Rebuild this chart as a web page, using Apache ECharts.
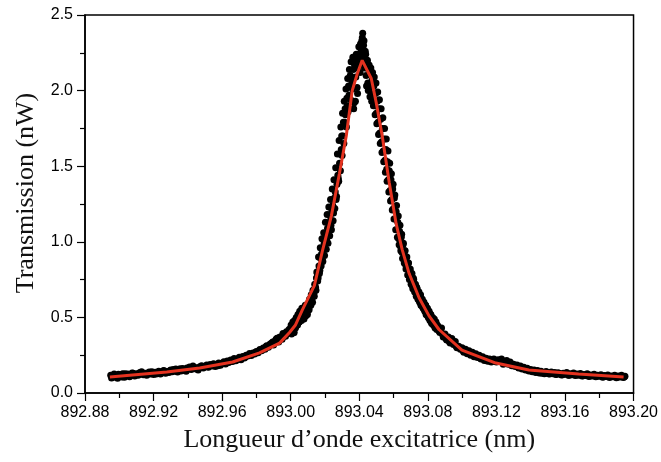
<!DOCTYPE html>
<html><head><meta charset="utf-8">
<script src="https://cdn.jsdelivr.net/npm/echarts@6/dist/echarts.min.js"></script>
<style>html,body{margin:0;padding:0;background:#fff}#c{width:661px;height:462px}</style>
</head><body><div id="c"></div>
<script>
// Axis tick settings (values)
const xTicks = [892.88, 892.92, 892.96, 893.00, 893.04, 893.08, 893.12, 893.16, 893.20];
const yTicks = [0.0, 0.5, 1.0, 1.5, 2.0, 2.5];

// Measured points: [wavelength (nm), transmission (nW)] — first pass
const leftTail = [
[892.895,0.118],[892.896,0.102],[892.897,0.125],[892.898,0.110],[892.899,0.097],[892.900,0.121],[892.901,0.113],[892.902,0.128],[892.903,0.104],[892.904,0.119],
[892.905,0.126],[892.906,0.108],[892.907,0.122],[892.908,0.131],[892.909,0.112],[892.910,0.127],[892.911,0.118],[892.912,0.135],[892.913,0.140],[892.914,0.121],
[892.915,0.130],[892.916,0.117],[892.917,0.134],[892.918,0.126],[892.919,0.141],[892.920,0.122],[892.921,0.137],[892.922,0.129],[892.923,0.144],[892.924,0.125],
[892.925,0.139],[892.926,0.148],[892.927,0.131],[892.928,0.143],[892.929,0.136],[892.930,0.152],[892.931,0.140],[892.932,0.147],[892.933,0.158],[892.934,0.139],
[892.935,0.153],[892.936,0.146],[892.937,0.162],[892.938,0.150],[892.939,0.144],[892.940,0.159],[892.941,0.172],[892.942,0.155],[892.943,0.178],[892.944,0.160],
[892.945,0.167],[892.946,0.152],[892.947,0.174],[892.948,0.181],[892.949,0.166],[892.950,0.177],[892.951,0.185],[892.952,0.170],[892.953,0.188],[892.954,0.179],
[892.955,0.193],[892.956,0.176],[892.957,0.190],[892.958,0.199],[892.959,0.184],[892.960,0.196],[892.961,0.206],[892.962,0.191],[892.963,0.212],[892.964,0.203],
[892.965,0.219],[892.966,0.208],[892.967,0.228],[892.968,0.214],[892.969,0.225],[892.970,0.236],[892.971,0.220],[892.972,0.241],[892.973,0.232],[892.974,0.250],
[892.975,0.244],[892.976,0.262],[892.977,0.248],[892.978,0.265],[892.979,0.258],[892.980,0.274],[892.981,0.266],[892.982,0.288],[892.983,0.279],[892.984,0.297],
[892.985,0.290],[892.986,0.312],[892.987,0.302],[892.988,0.324],[892.989,0.331],[892.990,0.318],[892.991,0.345],[892.992,0.362],[892.993,0.338],[892.994,0.371],
[892.995,0.356],[892.996,0.388],[892.997,0.375],[892.998,0.402],[892.999,0.420]
];
const peak = [
[893.0000,0.43],[893.0005,0.39],[893.0010,0.45],[893.0015,0.42],[893.0020,0.40],[893.0025,0.47],[893.0030,0.44],[893.0035,0.49],[893.0040,0.45],[893.0045,0.50],
[893.0050,0.47],[893.0055,0.53],[893.0060,0.49],[893.0065,0.56],[893.0070,0.51],[893.0075,0.54],[893.0080,0.52],[893.0085,0.58],[893.0090,0.55],[893.0095,0.53],
[893.0100,0.59],[893.0105,0.57],[893.0110,0.62],[893.0115,0.60],[893.0120,0.65],[893.0125,0.63],[893.0130,0.68],[893.0135,0.66],[893.0140,0.72],[893.0145,0.70],
[893.0150,0.76],[893.0155,0.79],[893.0160,0.76],[893.0165,0.84],[893.0170,0.81],[893.0175,0.89],[893.0180,0.92],[893.0185,0.88],[893.0190,0.96],[893.0195,0.99],
[893.0200,0.95],[893.0205,1.04],[893.0210,1.01],[893.0215,1.09],[893.0220,1.05],[893.0225,1.13],[893.0230,1.17],[893.0235,1.11],[893.0240,1.20],[893.0245,1.24],
[893.0250,1.19],[893.0255,1.29],[893.0260,1.33],[893.0265,1.28],[893.0270,1.38],[893.0275,1.44],[893.0280,1.40],[893.0285,1.52],[893.0290,1.47],[893.0295,1.61],
[893.0300,1.57],[893.0305,1.70],[893.0310,1.65],[893.0315,1.79],[893.0320,1.84],[893.0325,1.76],[893.0330,1.90],[893.0335,1.86],[893.0340,1.97],[893.0345,2.03],
[893.0350,1.94],[893.0355,2.09],[893.0360,2.01],[893.0365,2.14],[893.0370,1.92],[893.0375,2.18],[893.0380,2.09],[893.0385,2.21],[893.0390,1.98],[893.0395,2.15],
[893.0400,2.24],[893.0405,2.12],[893.0410,2.27],[893.0415,2.33],[893.0420,2.38],[893.0425,2.30],[893.0430,2.21],[893.0435,2.26],[893.0440,2.10],[893.0445,2.19],
[893.0450,2.05],[893.0455,2.14],[893.0460,2.02],[893.0465,2.12],[893.0470,1.98],[893.0475,2.07],[893.0480,1.95],[893.0485,2.03],[893.0490,1.90],[893.0495,1.98],
[893.0500,1.85],[893.0505,1.93],[893.0510,1.79],[893.0515,1.88],[893.0520,1.72],[893.0525,1.81],[893.0530,1.66],[893.0535,1.75],[893.0540,1.60],[893.0545,1.68],
[893.0550,1.54],[893.0555,1.61],[893.0560,1.48],[893.0565,1.53],[893.0570,1.41],[893.0575,1.47],[893.0580,1.34],[893.0585,1.41],[893.0590,1.28],[893.0595,1.35],
[893.0600,1.22],[893.0605,1.29],[893.0610,1.15],[893.0615,1.20],[893.0620,1.08],[893.0625,1.13],[893.0630,1.02],[893.0635,1.07],[893.0640,0.97],[893.0645,1.03],
[893.0650,0.93],[893.0655,0.98],[893.0660,0.90],[893.0665,0.94],[893.0670,0.85],[893.0675,0.90],[893.0680,0.82],[893.0685,0.86],[893.0690,0.78],[893.0695,0.81],
[893.0700,0.75],[893.0705,0.78],[893.0710,0.71],[893.0715,0.76],[893.0720,0.69],[893.0725,0.72],[893.0730,0.66],[893.0735,0.70],[893.0740,0.64],[893.0745,0.66],
[893.0750,0.61],[893.0755,0.64],[893.0760,0.58],[893.0765,0.62],[893.0770,0.57],[893.0775,0.60],[893.0780,0.55],[893.0785,0.58],[893.0790,0.52],[893.0795,0.56],
[893.0800,0.51],[893.0805,0.54],[893.0810,0.49],[893.0815,0.52],[893.0820,0.47],[893.0825,0.50],[893.0830,0.46],[893.0835,0.48],[893.0840,0.44],[893.0845,0.47],
[893.0850,0.43],[893.0855,0.45]
];
const rightTail = [
[893.086,0.44],[893.087,0.40],[893.088,0.43],[893.089,0.37],[893.090,0.39],[893.091,0.35],[893.092,0.37],[893.093,0.33],[893.094,0.36],[893.095,0.32],
[893.096,0.34],[893.097,0.30],[893.098,0.31],[893.099,0.29],[893.100,0.30],[893.101,0.27],[893.102,0.29],[893.103,0.26],[893.104,0.28],[893.105,0.25],
[893.106,0.27],[893.107,0.24],[893.108,0.26],[893.109,0.235],[893.110,0.25],[893.111,0.225],[893.112,0.24],[893.113,0.215],[893.114,0.23],[893.115,0.21],
[893.116,0.225],[893.117,0.205],[893.118,0.22],[893.119,0.215],[893.120,0.205],[893.121,0.22],[893.122,0.21],[893.123,0.225],[893.124,0.19],[893.125,0.205],
[893.126,0.215],[893.127,0.19],[893.128,0.205],[893.129,0.18],[893.130,0.19],[893.131,0.175],[893.132,0.185],[893.133,0.165],[893.134,0.178],[893.135,0.158],
[893.136,0.17],[893.137,0.152],[893.138,0.163],[893.139,0.145],[893.140,0.155],[893.141,0.14],[893.142,0.152],[893.143,0.136],[893.144,0.148],[893.145,0.132],
[893.146,0.144],[893.147,0.138],[893.148,0.128],[893.149,0.142],[893.150,0.133],[893.151,0.125],[893.152,0.139],[893.153,0.128],[893.154,0.135],[893.155,0.122],
[893.156,0.134],[893.157,0.127],[893.158,0.119],[893.159,0.131],[893.160,0.124],[893.161,0.135],[893.162,0.118],[893.163,0.128],[893.164,0.121],[893.165,0.132],
[893.166,0.115],[893.167,0.125],[893.168,0.118],[893.169,0.129],[893.170,0.112],[893.171,0.122],[893.172,0.116],[893.173,0.127],[893.174,0.109],[893.175,0.119],
[893.176,0.112],[893.177,0.124],[893.178,0.107],[893.179,0.117],[893.180,0.111],[893.181,0.121],[893.182,0.104],[893.183,0.115],[893.184,0.109],[893.185,0.119],
[893.186,0.103],[893.187,0.113],[893.188,0.107],[893.189,0.118],[893.190,0.101],[893.191,0.112],[893.192,0.106],[893.193,0.117],[893.194,0.103],[893.195,0.111]
];
// Second pass (interleaved samples)
const leftTail2 = [
[892.8955,0.100],[892.8975,0.116],[892.8995,0.124],[892.9015,0.105],[892.9035,0.127],[892.9055,0.114],[892.9075,0.133],[892.9095,0.120],[892.9115,0.128],[892.9135,0.132],
[892.9155,0.124],[892.9175,0.139],[892.9195,0.131],[892.9215,0.126],[892.9235,0.137],[892.9255,0.145],[892.9275,0.138],[892.9295,0.147],[892.9315,0.155],[892.9335,0.146],
[892.9355,0.160],[892.9375,0.152],[892.9395,0.165],[892.9415,0.161],[892.9435,0.170],[892.9455,0.158],[892.9475,0.169],[892.9495,0.176],[892.9515,0.174],[892.9535,0.182],
[892.9555,0.186],[892.9575,0.181],[892.9595,0.194],[892.9615,0.199],[892.9635,0.202],[892.9655,0.210],[892.9675,0.216],[892.9695,0.221],[892.9715,0.233],[892.9735,0.238],
[892.9755,0.252],[892.9775,0.256],[892.9795,0.270],[892.9815,0.279],[892.9835,0.290],[892.9855,0.306],[892.9875,0.314],[892.9895,0.337],[892.9915,0.356],[892.9935,0.369],
[892.9955,0.394],[892.9975,0.405]
];
const peak2 = [
[893.00025,0.45],[893.00075,0.41],[893.00125,0.47],[893.00175,0.40],[893.00225,0.48],[893.00275,0.43],[893.00325,0.50],[893.00375,0.46],[893.00425,0.52],[893.00475,0.47],
[893.00525,0.54],[893.00575,0.50],[893.00625,0.48],[893.00675,0.52],[893.00725,0.50],[893.00775,0.49],[893.00825,0.53],[893.00875,0.51],[893.00925,0.56],[893.00975,0.52],
[893.01025,0.57],[893.01075,0.55],[893.01125,0.61],[893.01175,0.58],[893.01225,0.63],[893.01275,0.60],[893.01325,0.66],[893.01375,0.64],[893.01425,0.70],[893.01475,0.68],
[893.01525,0.80],[893.01575,0.74],[893.01625,0.90],[893.01675,0.79],[893.01725,0.96],[893.01775,0.84],[893.01825,1.02],[893.01875,0.87],[893.01925,1.06],[893.01975,0.91],
[893.02025,1.13],[893.02075,0.95],[893.02125,1.18],[893.02175,0.99],[893.02225,1.23],[893.02275,1.04],[893.02325,1.28],[893.02375,1.08],[893.02425,1.35],[893.02475,1.14],
[893.02525,1.41],[893.02575,1.22],[893.02625,1.49],[893.02675,1.30],[893.02725,1.58],[893.02775,1.42],[893.02825,1.67],[893.02875,1.58],[893.02925,1.76],[893.02975,1.70],
[893.03025,1.85],[893.03075,1.79],[893.03125,1.93],[893.03175,1.88],[893.03225,2.01],[893.03275,1.95],[893.03325,2.08],[893.03375,2.03],[893.03425,2.14],[893.03475,2.10],
[893.03525,2.19],[893.03575,2.06],[893.03625,2.22],[893.03675,1.88],[893.03725,2.17],[893.03775,1.93],[893.03825,2.24],[893.03875,2.02],[893.03925,2.20],[893.03975,2.29],
[893.04025,2.17],[893.04075,2.31],[893.04125,2.22],[893.04175,2.35],[893.04225,2.26],[893.04275,2.33],[893.04325,2.15],[893.04375,2.24],[893.04425,2.03],[893.04475,2.20],
[893.04525,2.00],[893.04575,2.17],[893.04625,1.96],[893.04675,2.15],[893.04725,1.93],[893.04775,2.12],[893.04825,1.90],[893.04875,2.09],[893.04925,1.84],[893.04975,2.05],
[893.05025,1.78],[893.05075,1.99],[893.05125,1.71],[893.05175,1.94],[893.05225,1.65],[893.05275,1.88],[893.05325,1.59],[893.05375,1.82],[893.05425,1.53],[893.05475,1.75],
[893.05525,1.46],[893.05575,1.68],[893.05625,1.40],[893.05675,1.60],[893.05725,1.33],[893.05775,1.52],[893.05825,1.27],[893.05875,1.45],[893.05925,1.21],[893.05975,1.38],
[893.06025,1.15],[893.06075,1.31],[893.06125,1.08],[893.06175,1.24],[893.06225,1.03],[893.06275,1.17],[893.06325,0.98],[893.06375,1.11],[893.06425,0.94],[893.06475,1.05],
[893.06525,0.89],[893.06575,0.99],[893.06625,0.86],[893.06675,0.94],[893.06725,0.82],[893.06775,0.90],[893.06825,0.78],[893.06875,0.86],[893.06925,0.75],[893.06975,0.82],
[893.07025,0.72],[893.07075,0.79],[893.07125,0.69],[893.07175,0.75],[893.07225,0.67],[893.07275,0.72],[893.07325,0.64],[893.07375,0.69],[893.07425,0.62],[893.07475,0.67],
[893.07525,0.60],[893.07575,0.65],[893.07625,0.58],[893.07675,0.62],[893.07725,0.56],[893.07775,0.60],[893.07825,0.54],[893.07875,0.58],[893.07925,0.52],[893.07975,0.56],
[893.08025,0.50],[893.08075,0.54],[893.08125,0.48],[893.08175,0.52],[893.08225,0.46],[893.08275,0.50],[893.08325,0.45],[893.08375,0.49],[893.08425,0.43],[893.08475,0.47],
[893.08525,0.42]
];
const rightTail2 = [
[893.0865,0.41],[893.0885,0.39],[893.0905,0.36],[893.0925,0.34],[893.0945,0.34],[893.0965,0.31],[893.0985,0.30],[893.1005,0.28],[893.1025,0.27],[893.1045,0.265],
[893.1065,0.25],[893.1085,0.245],[893.1105,0.235],[893.1125,0.228],[893.1145,0.22],[893.1165,0.212],[893.1185,0.225],[893.1205,0.215],[893.1225,0.218],[893.1245,0.20],
[893.1265,0.198],[893.1285,0.19],[893.1305,0.183],[893.1325,0.172],[893.1345,0.165],[893.1365,0.16],[893.1385,0.152],[893.1405,0.146],[893.1425,0.141],[893.1445,0.139],
[893.1465,0.131],[893.1485,0.135],[893.1505,0.127],[893.1525,0.132],[893.1545,0.124],[893.1565,0.128],[893.1585,0.121],[893.1605,0.127],[893.1625,0.118],[893.1645,0.124],
[893.1665,0.119],[893.1685,0.122],[893.1705,0.114],[893.1725,0.119],[893.1745,0.112],[893.1765,0.117],[893.1785,0.110],[893.1805,0.114],[893.1825,0.108],[893.1845,0.112],
[893.1865,0.107],[893.1885,0.111],[893.1905,0.104],[893.1925,0.110],[893.1945,0.106]
];

// Fitted curve
const fitWl = [892.8945,892.9277,892.9469,892.9661,892.9818,892.9935,892.9993,893.0028,893.0068,893.0138,893.0185,893.0237,893.0284,893.0324,893.0359,893.0388,893.0417,893.0470,893.0499,893.0534,893.0575,893.0615,893.0650,893.0691,893.0749,893.0807,893.0865,893.0999,893.1197,893.1389,893.1680,893.1942];
const fitP  = [0.106,0.139,0.165,0.205,0.265,0.33,0.40,0.45,0.55,0.71,0.94,1.17,1.45,1.70,2.00,2.11,2.20,2.08,1.92,1.70,1.39,1.12,0.95,0.79,0.63,0.51,0.42,0.284,0.198,0.152,0.126,0.106];

const chart = echarts.init(document.getElementById('c'), null, {renderer: 'canvas'});
const tickStep = (a) => a[1] - a[0];
chart.setOption({
  animation: false,
  backgroundColor: '#fff',
  grid: {left: 85, right: 26, top: 15, bottom: 69, show: true, borderColor: '#000', borderWidth: 1.5, backgroundColor: 'transparent'},
  xAxis: {
    type: 'value', min: xTicks[0], max: xTicks[xTicks.length - 1], interval: +tickStep(xTicks).toFixed(2),
    name: 'Longueur d\u2019onde excitatrice (nm)', nameLocation: 'middle', nameGap: 34,
    nameTextStyle: {fontFamily: 'Liberation Serif', fontSize: 26, color: '#111'},
    axisLine: {show: true, onZero: false, lineStyle: {color: '#000', width: 1.5}},
    axisTick: {show: true, length: 8, lineStyle: {color: '#000', width: 1.2}},
    minorTick: {show: true, splitNumber: 2, length: 5, lineStyle: {color: '#000', width: 1.2}},
    splitLine: {show: false},
    axisLabel: {formatter: v => v.toFixed(2), fontFamily: 'Liberation Sans', fontSize: 16, color: '#000', margin: 12}
  },
  yAxis: {
    type: 'value', min: yTicks[0], max: yTicks[yTicks.length - 1], interval: tickStep(yTicks),
    name: 'Transmission (nW)', nameLocation: 'middle', nameGap: 46,
    nameTextStyle: {fontFamily: 'Liberation Serif', fontSize: 26, color: '#111', padding: [0, 0, 0, 22]},
    axisLine: {show: true, onZero: false, lineStyle: {color: '#000', width: 1.5}},
    axisTick: {show: true, length: 8, lineStyle: {color: '#000', width: 1.2}},
    minorTick: {show: true, splitNumber: 2, length: 5, lineStyle: {color: '#000', width: 1.2}},
    splitLine: {show: false},
    axisLabel: {formatter: v => v.toFixed(1), fontFamily: 'Liberation Sans', fontSize: 16, color: '#000', margin: 12}
  },
  series: [
    {type: 'scatter', data: leftTail.concat(leftTail2, peak, peak2, rightTail, rightTail2), symbol: 'circle', symbolSize: 7,
     itemStyle: {color: '#000', opacity: 1}, z: 2, silent: true, large: false},
    {type: 'line', data: fitWl.map((w, i) => [w, fitP[i]]), showSymbol: false, smooth: false,
     lineStyle: {color: '#e4321f', width: 3}, z: 3, silent: true}
  ]
});
</script></body></html>
